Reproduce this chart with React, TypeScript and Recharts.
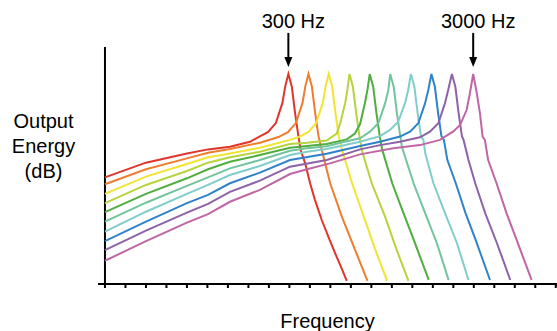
import React from 'react';
import { LineChart, Line, XAxis, YAxis, ReferenceLine, ReferenceDot } from 'recharts';

const FONT = '"Liberation Sans", Arial, Helvetica, sans-serif';

// x: frequency position (tick index), y: output energy (arbitrary dB, 0..100)
const red: number[][] = [
  [0, 45.0], [2, 51.2], [4, 55.1], [5.03, 56.8], [6.1, 57.9], [7.08, 60.0], [7.49, 62.0], [7.95, 64.1],
  [8.34, 67.9], [8.66, 76.4], [8.8, 83.5], [8.95, 88.6], [9.12, 83.2], [9.28, 72.0], [9.44, 62.4],
  [9.55, 56.5], [9.77, 50.9], [10.01, 42.5], [10.25, 35.4], [10.58, 27.0], [10.9, 20.0], [11.23, 13.0],
  [11.55, 6.6], [11.8, 1.3],
];
const orange: number[][] = [
  [0, 42.1], [2, 48.4], [4, 53.0], [5.03, 55.4], [6.1, 57.0], [7.56, 59.6], [8.47, 62.0], [8.93, 64.1],
  [9.32, 67.9], [9.64, 76.4], [9.78, 83.5], [9.93, 88.6], [10.1, 83.2], [10.26, 72.0], [10.42, 62.4],
  [10.58, 56.5], [10.99, 42.5], [11.56, 28.4], [12.21, 14.3], [12.81, 1.3],
];
const yellow: number[][] = [
  [0, 38.0], [2, 45.3], [4, 50.6], [5.03, 53.5], [6.1, 55.1], [7.56, 57.5], [9.03, 60.8], [9.46, 62.0],
  [9.92, 64.1], [10.31, 67.9], [10.63, 76.4], [10.77, 83.5], [10.92, 88.6], [11.09, 83.2], [11.25, 72.0],
  [11.41, 62.4], [11.57, 56.5], [12.06, 42.5], [12.63, 28.4], [13.2, 14.3], [13.77, 1.3],
];
const yellowGreen: number[][] = [
  [0, 34.1], [2, 41.8], [4, 47.7], [5.03, 51.2], [6.1, 53.5], [7.56, 55.8], [9.03, 59.1], [9.86, 59.6],
  [10.82, 60.5], [11.31, 63.5], [11.48, 67.8], [11.72, 76.2], [11.83, 81.9], [11.93, 88.6], [12.1, 83.2],
  [12.26, 72.0], [12.42, 62.4], [12.53, 56.5], [13.02, 42.5], [13.67, 28.4], [14.24, 14.3], [14.81, 1.3],
];
const green: number[][] = [
  [0, 30.3], [2, 38.0], [4, 44.6], [5.03, 48.4], [6.1, 51.6], [7.56, 54.4], [9.03, 57.5], [9.86, 58.2],
  [10.82, 59.1], [11.8, 61.0], [12.2, 63.5], [12.45, 67.5], [12.69, 76.5], [12.82, 82.5], [12.92, 88.6],
  [13.09, 83.2], [13.25, 72.0], [13.41, 62.4], [13.52, 57.0], [14.02, 42.5], [14.42, 33.3], [15.07, 18.6],
  [15.8, 1.7],
];
const teal: number[][] = [
  [0, 26.3], [2, 34.3], [4, 41.4], [5.03, 45.0], [6.1, 48.8], [7.56, 52.3], [9.03, 56.2], [9.86, 57.3],
  [10.82, 58.1], [11.6, 59.8], [12.45, 61.5], [12.93, 64.3], [13.34, 67.8], [13.67, 76.2], [13.83, 81.9],
  [13.92, 88.6], [14.09, 83.2], [14.25, 72.0], [14.41, 62.4], [14.49, 57.9], [15.06, 42.5], [15.63, 29.8],
  [16.2, 17.2], [16.77, 1.7],
];
const aqua: number[][] = [
  [0, 22.1], [2, 30.5], [4, 38.0], [5.03, 41.8], [6.1, 46.0], [7.56, 49.8], [9.03, 54.4], [9.86, 55.8],
  [10.82, 57.0], [12.45, 60.0], [13.42, 62.4], [13.91, 65.0], [14.31, 68.5], [14.64, 76.2], [14.8, 81.9],
  [14.93, 88.6], [15.1, 83.2], [15.26, 72.0], [15.42, 62.4], [15.54, 60.8], [15.63, 55.1], [16.03, 42.5],
  [16.6, 29.8], [17.18, 17.2], [17.74, 1.7],
];
const blue: number[][] = [
  [0, 18.1], [2, 26.3], [4, 34.1], [5.03, 37.6], [6.1, 42.5], [7.56, 47.0], [9.03, 52.3], [10.82, 55.0],
  [12.45, 58.2], [13.42, 60.0], [14.4, 62.2], [14.89, 64.3], [15.29, 67.8], [15.62, 76.2], [15.78, 81.9],
  [15.93, 88.6], [16.1, 83.2], [16.26, 72.0], [16.42, 62.4], [16.54, 60.8], [16.71, 52.3], [17.12, 42.5],
  [17.6, 29.8], [18.09, 18.6], [18.79, 1.7],
];
const purple: number[][] = [
  [0, 14.3], [2, 22.5], [4, 30.1], [5.03, 33.8], [6.1, 38.9], [7.56, 43.6], [9.03, 49.5], [10.82, 52.3],
  [12.45, 56.8], [13.42, 58.6], [14.4, 60.0], [15.37, 61.9], [15.86, 64.3], [16.27, 67.8], [16.59, 76.2],
  [16.75, 81.9], [16.93, 88.6], [17.1, 83.2], [17.26, 72.0], [17.42, 62.4], [17.5, 60.8], [17.74, 52.3],
  [18.07, 42.5], [18.56, 29.8], [19.13, 17.2], [19.78, 1.7],
];
const pink: number[][] = [
  [0, 9.8], [2, 18.1], [4, 25.9], [5.03, 29.5], [6.1, 34.7], [7.56, 39.7], [9.03, 46.4], [9.86, 48.4],
  [10.98, 50.9], [12.45, 54.7], [14.07, 57.3], [15.37, 58.6], [16.35, 60.8], [17.0, 64.4], [17.33, 67.1],
  [17.65, 73.4], [17.81, 80.5], [17.97, 88.6], [18.14, 80.8], [18.3, 72.0], [18.43, 62.2], [18.54, 60.8],
  [18.7, 52.3], [19.11, 42.5], [19.6, 29.8], [20.09, 18.6], [20.82, 1.7],
];

const seriesData = [red, orange, yellow, yellowGreen, green, teal, aqua, blue, purple, pink];
const seriesNames = ['f1', 'f2', 'f3', 'f4', 'f5', 'f6', 'f7', 'f8', 'f9', 'f10'];
const seriesColors = [
  '#e0352b', '#ef7c2f', '#f2e433', '#b6d43c', '#4fae3f',
  '#72c49d', '#80cdcb', '#2f82c9', '#8e62a8', '#c066a5',
];

const xTicks = [0, 1, 2, 3, 4, 5, 6, 7, 8, 9, 10, 11, 12, 13, 14, 15, 16, 17, 18, 19, 20, 21, 22];

const annotationLabels = ['300 Hz', '3000 Hz'];
const annotationX = [8.95, 17.97];
const annotationY = [91.6, 91.6];

const makeArrow = (label: string) => (props: any) => {
  const { cx, cy } = props;
  return (
    <g>
      <line x1={cx} y1={cy - 34} x2={cx} y2={cy - 8} stroke="#000" strokeWidth={2} />
      <polygon points={`${cx - 4},${cy - 10} ${cx + 4},${cy - 10} ${cx},${cy}`} fill="#000" />
      <text x={cx + 5} y={cy - 39} textAnchor="middle" fontSize={20} fontFamily={FONT} fill="#000">
        {label}
      </text>
    </g>
  );
};

const EmptyTick = () => <g />;

export default function App() {
  return (
    <div style={{ position: 'absolute', left: 0, top: 0, width: 557, height: 331, background: '#fff' }}>
      <LineChart width={557} height={331} margin={{ top: 47, right: 0, bottom: 0, left: 98 }}>
        <XAxis
          type="number"
          dataKey="x"
          domain={[-0.34, 22.06]}
          allowDataOverflow
          ticks={xTicks}
          interval={0}
          tick={EmptyTick}
          tickSize={4}
          tickLine={{ stroke: '#000', strokeWidth: 2 }}
          axisLine={{ stroke: '#000', strokeWidth: 2 }}
          height={47}
          label={{ value: 'Frequency', position: 'insideBottom', offset: 3, fill: '#000', fontSize: 20, fontFamily: FONT }}
        />
        <YAxis type="number" domain={[0, 100]} allowDataOverflow hide width={0} />
        <ReferenceLine x={0} stroke="#000" strokeWidth={2} />
        {seriesData.map((pts, i) => (
          <Line
            key={seriesNames[i]}
            name={seriesNames[i]}
            data={pts.map(([x, y]) => ({ x, y }))}
            dataKey="y"
            type="linear"
            stroke={seriesColors[i]}
            strokeWidth={2}
            dot={false}
            activeDot={false}
            isAnimationActive={false}
          />
        ))}
        {annotationLabels.map((label, i) => (
          <ReferenceDot
            key={label}
            x={annotationX[i]}
            y={annotationY[i]}
            ifOverflow="visible"
            shape={makeArrow(label)}
          />
        ))}
      </LineChart>
      <div
        style={{
          position: 'absolute',
          left: 0,
          top: 109,
          width: 87,
          textAlign: 'center',
          fontFamily: FONT,
          fontSize: 20,
          lineHeight: '25px',
          color: '#000',
        }}
      >
        Output
        <br />
        Energy
        <br />
        (dB)
      </div>
    </div>
  );
}
